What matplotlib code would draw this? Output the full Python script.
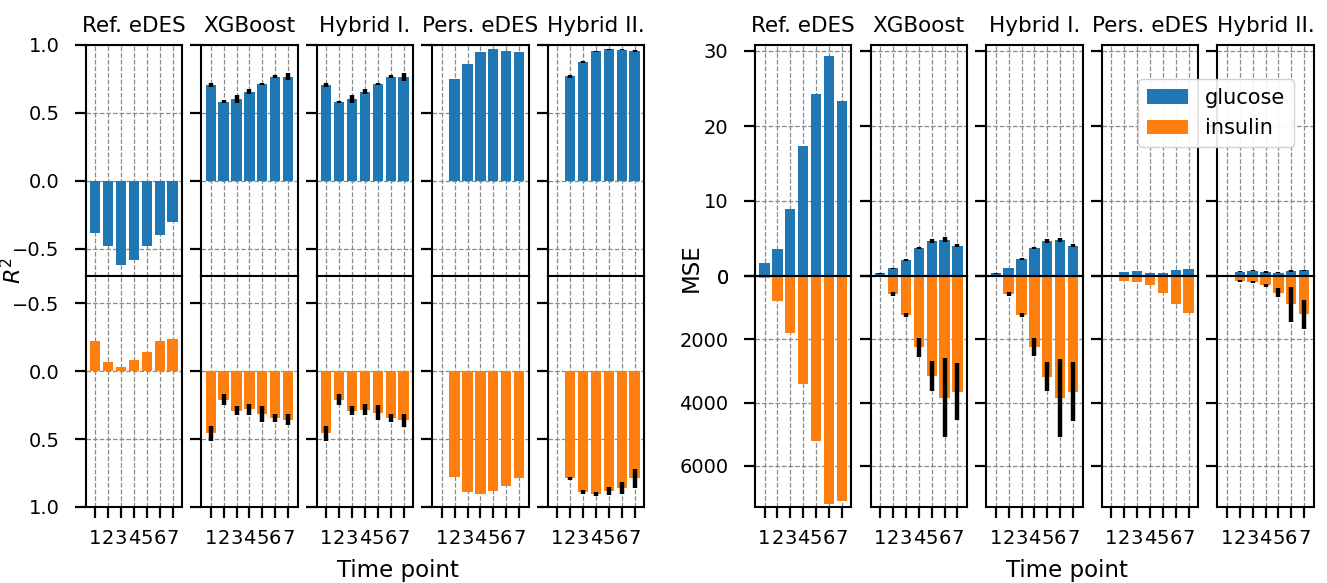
import numpy as np
import matplotlib
matplotlib.use("Agg")
import matplotlib.pyplot as plt

plt.rcParams['font.size'] = 14
plt.rcParams['axes.linewidth'] = 1.5

methods = ["Ref. eDES", "XGBoost", "Hybrid I.", "Pers. eDES", "Hybrid II."]
time_points = [1, 2, 3, 4, 5, 6, 7]
# Pers. eDES and Hybrid II. start at the second time point
start_tp = {"Ref. eDES": 1, "XGBoost": 1, "Hybrid I.": 1, "Pers. eDES": 2, "Hybrid II.": 2}

# R^2 for glucose
r2_glucose = {
    "Ref. eDES": [-0.38, -0.48, -0.62, -0.58, -0.48, -0.40, -0.30],
    "XGBoost": [0.705, 0.583, 0.60, 0.657, 0.712, 0.767, 0.767],
    "Hybrid I.": [0.705, 0.58, 0.60, 0.657, 0.712, 0.767, 0.767],
    "Pers. eDES": [0.748, 0.863, 0.951, 0.968, 0.958, 0.946],
    "Hybrid II.": [0.77, 0.877, 0.953, 0.968, 0.966, 0.956],
}
r2_glucose_err = {
    "XGBoost": [0.015, 0.01, 0.03, 0.02, 0.006, 0.01, 0.025],
    "Hybrid I.": [0.015, 0.01, 0.03, 0.02, 0.006, 0.01, 0.03],
    "Hybrid II.": [0.01, 0.008, 0.004, 0.003, 0.004, 0.004],
}

# R^2 for insulin
r2_insulin = {
    "Ref. eDES": [-0.22, -0.07, -0.03, -0.08, -0.14, -0.22, -0.24],
    "XGBoost": [0.456, 0.212, 0.29, 0.28, 0.315, 0.346, 0.358],
    "Hybrid I.": [0.456, 0.21, 0.29, 0.285, 0.305, 0.346, 0.363],
    "Pers. eDES": [0.778, 0.89, 0.902, 0.883, 0.846, 0.79],
    "Hybrid II.": [0.79, 0.89, 0.902, 0.883, 0.863, 0.79],
}
r2_insulin_err = {
    "XGBoost": [0.055, 0.04, 0.03, 0.04, 0.06, 0.028, 0.04],
    "Hybrid I.": [0.055, 0.04, 0.03, 0.04, 0.057, 0.028, 0.045],
    "Hybrid II.": [0.013, 0.018, 0.016, 0.032, 0.044, 0.07],
}

# MSE for glucose
mse_glucose = {
    "Ref. eDES": [1.74, 3.66, 8.96, 17.3, 24.3, 29.3, 23.3],
    "XGBoost": [0.36, 1.03, 2.18, 3.74, 4.64, 4.86, 4.06],
    "Hybrid I.": [0.36, 1.07, 2.23, 3.74, 4.68, 4.80, 4.06],
    "Pers. eDES": [0.58, 0.71, 0.45, 0.45, 0.80, 0.94],
    "Hybrid II.": [0.58, 0.71, 0.53, 0.45, 0.67, 0.76],
}
mse_glucose_err = {
    "XGBoost": [0.05, 0.05, 0.15, 0.15, 0.3, 0.3, 0.15],
    "Hybrid I.": [0.05, 0.05, 0.12, 0.15, 0.3, 0.3, 0.2],
    "Hybrid II.": [0.05, 0.1, 0.1, 0.05, 0.08, 0.05],
}

# MSE for insulin
mse_insulin = {
    "Ref. eDES": [74, 790, 1790, 3420, 5220, 7190, 7105],
    "XGBoost": [20, 580, 1220, 2250, 3150, 3840, 3650],
    "Hybrid I.": [20, 570, 1230, 2250, 3180, 3860, 3650],
    "Pers. eDES": [160, 190, 295, 525, 885, 1180],
    "Hybrid II.": [160, 190, 295, 525, 895, 1210],
}
mse_insulin_err = {
    "XGBoost": [10, 60, 60, 300, 470, 1250, 900],
    "Hybrid I.": [10, 50, 50, 290, 460, 1230, 930],
    "Hybrid II.": [20, 30, 40, 130, 560, 450],
}

GLUCOSE_COLOR = "#1f77b4"
INSULIN_COLOR = "#ff7f0e"

W, H = 1327, 583
fig = plt.figure(figsize=(W / 100, H / 100), dpi=100)

'''
Draw one column (glucose on top, insulin below) for a single method.
'''
def draw_column(x0, method, top_vals, top_err, bot_vals, bot_err, top_lim, bot_lim,
                top_ticks, bot_ticks, first):
    w = 96.4 / W
    h = 231 / H
    ax_top = fig.add_axes([x0 / W, 1 - 276 / H, w, h])
    ax_bot = fig.add_axes([x0 / W, 1 - 507 / H, w, h])

    tp = time_points[start_tp[method] - 1:]
    err_kw = dict(ecolor="k", elinewidth=3.2, capsize=0)

    ax_top.bar(tp, top_vals[method], width=0.8, color=GLUCOSE_COLOR,
               yerr=top_err.get(method), error_kw=err_kw, label="glucose", zorder=2)
    ax_bot.bar(tp, bot_vals[method], width=0.8, color=INSULIN_COLOR,
               yerr=bot_err.get(method), error_kw=err_kw, label="insulin", zorder=2)

    ax_top.set_ylim(*top_lim)
    ax_bot.set_ylim(bot_lim[1], bot_lim[0])  # insulin grows downwards
    ax_top.set_yticks(top_ticks)
    ax_bot.set_yticks(bot_ticks)

    for ax in (ax_top, ax_bot):
        ax.set_xlim(0.26, 7.74)
        ax.set_xticks(time_points)
        ax.grid(True, linestyle="--", color="#8a8a8a", linewidth=0.9, zorder=0)
        ax.set_axisbelow(True)
        ax.tick_params(axis="y", length=8, width=1.6, pad=11, labelsize=14)
        ax.tick_params(axis="x", length=8, width=1.6, pad=8, labelsize=14)
        if not first:
            ax.tick_params(labelleft=False)

    ax_top.tick_params(axis="x", length=0, labelbottom=False)
    ax_top.set_title(method, fontsize=15.5, pad=9)
    return ax_top, ax_bot


left_x = [85.7, 201.2, 316.7, 432.2, 547.7]
right_x = [755.0, 870.6, 986.2, 1101.7, 1217.3]

for i, m in enumerate(methods):
    draw_column(left_x[i], m, r2_glucose, r2_glucose_err, r2_insulin, r2_insulin_err,
                (-0.7, 1.0), (-0.7, 1.0), [-0.5, 0.0, 0.5, 1.0], [-0.5, 0.0, 0.5, 1.0], i == 0)

for i, m in enumerate(methods):
    top, bot = draw_column(right_x[i], m, mse_glucose, mse_glucose_err, mse_insulin,
                           mse_insulin_err, (0, 30.8), (0, 7300), [0, 10, 20, 30],
                           [0, 2000, 4000, 6000], i == 0)
    if i == 0:
        handles = [top.patches[0], bot.patches[0]]

fig.legend(handles, ["glucose", "insulin"], loc="upper left",
           bbox_to_anchor=(1128 / W, 1 - 69 / H), fontsize=15,
           handlelength=2.0, handletextpad=0.8, framealpha=0.9, edgecolor="#cccccc")

# axis labels for both groups
fig.text(13 / W, 1 - 270 / H, "$R^2$", rotation=90, ha="center", va="center", fontsize=16)
fig.text(691 / W, 1 - 268 / H, "MSE", rotation=90, ha="center", va="center", fontsize=16.5)
fig.text(398 / W, 1 - 570 / H, "Time point", ha="center", va="center", fontsize=16.5)
fig.text(1067 / W, 1 - 570 / H, "Time point", ha="center", va="center", fontsize=16.5)

fig.savefig("out.png", dpi=100)
